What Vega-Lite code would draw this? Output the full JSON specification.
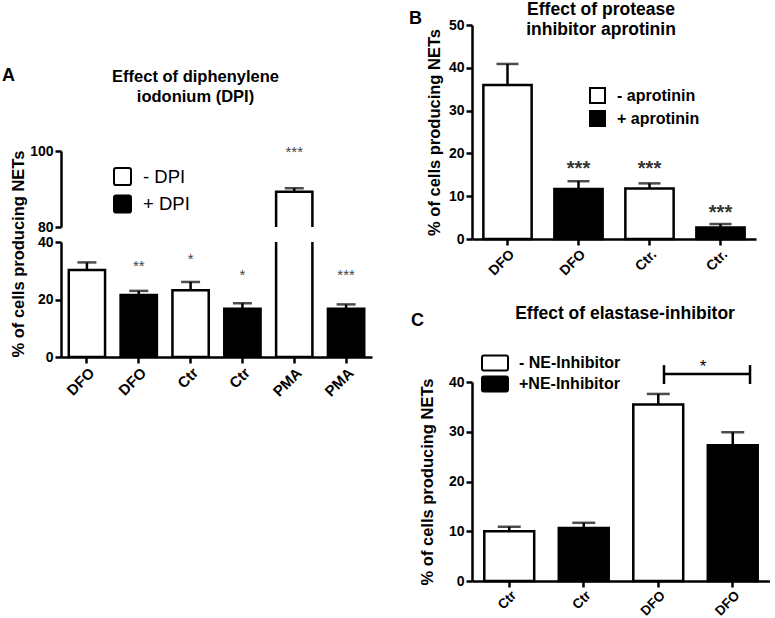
{
  "$schema": "https://vega.github.io/schema/vega-lite/v6.json",
  "background": "white",
  "padding": {"left": 2, "top": 0, "right": 0, "bottom": 0},
  "config": {
    "view": {"stroke": null},
    "font": "Liberation Sans",
    "axis": {"domainColor": "black", "domainWidth": 2.5, "tickColor": "black", "tickWidth": 2.5, "tickSize": 6,
      "labelFont": "Liberation Sans", "labelFontWeight": "bold", "labelFontSize": 14, "labelColor": "black", "labelPadding": 2,
      "titleFont": "Liberation Sans", "titleFontWeight": "bold", "titleFontSize": 16.5, "titleColor": "black", "grid": false},
    "legend": {"labelFont": "Liberation Sans", "labelColor": "black", "padding": 0, "titlePadding": 0},
    "title": {"font": "Liberation Sans", "fontWeight": "bold", "color": "black"}
  },
  "datasets": {
    "a": [
      {"id": "DFO|-", "treat": "- DPI", "value": 30.3, "hi": 32.9, "star": "", "sy": null},
      {"id": "DFO|+", "treat": "+ DPI", "value": 21.6, "hi": 23.0, "star": "**", "sy": 31.7},
      {"id": "Ctr|-", "treat": "- DPI", "value": 23.2, "hi": 26.1, "star": "*", "sy": 34.1},
      {"id": "Ctr|+", "treat": "+ DPI", "value": 16.8, "hi": 18.7, "star": "*", "sy": 28.6},
      {"id": "PMA|-", "treat": "- DPI", "value": 89.3, "hi": 90.2, "star": "***", "sy": 99.8},
      {"id": "PMA|+", "treat": "+ DPI", "value": 16.8, "hi": 18.3, "star": "***", "sy": 28.6}
    ],
    "b": [
      {"id": "DFO|-", "treat": "- aprotinin", "value": 36.0, "hi": 40.9, "star": "", "sy": null},
      {"id": "DFO|+", "treat": "+ aprotinin", "value": 11.7, "hi": 13.5, "star": "***", "sy": 16.4},
      {"id": "Ctr.|-", "treat": "- aprotinin", "value": 11.8, "hi": 13.0, "star": "***", "sy": 16.4},
      {"id": "Ctr.|+", "treat": "+ aprotinin", "value": 2.7, "hi": 3.5, "star": "***", "sy": 6.1}
    ],
    "c": [
      {"id": "Ctr|-", "treat": "- NE-Inhibitor", "value": 10.0, "hi": 10.9},
      {"id": "Ctr|+", "treat": "+NE-Inhibitor", "value": 10.65, "hi": 11.7},
      {"id": "DFO|-", "treat": "- NE-Inhibitor", "value": 35.5, "hi": 37.6},
      {"id": "DFO|+", "treat": "+NE-Inhibitor", "value": 27.3, "hi": 29.9}
    ],
    "cbracket": [
      {"from": "DFO|-", "to": "DFO|+", "level": 41.6, "lo": 39.6, "up": 43.4, "star": "*", "sy": 43.0}
    ]
  },
  "spacing": 37,
  "resolve": {"scale": {"x": "independent", "y": "independent", "fill": "independent"}, "legend": {"fill": "independent"}},
  "hconcat": [
    {
      "bounds": "flush",
      "spacing": 15,
      "resolve": {"scale": {"x": "independent", "y": "independent", "fill": "independent"}, "legend": {"fill": "independent"}},
      "vconcat": [
        {
          "width": 311, "height": 111,
          "title": {"text": "A", "anchor": "start", "frame": "group", "orient": "top", "offset": -60, "dx": -59, "fontSize": 18},
          "data": {"values": [{"t": ""}]},
          "mark": {"type": "text"},
          "encoding": {"text": {"field": "t"}}
        },
        {
          "width": 311, "height": 76,
          "data": {"name": "a"},
          "title": {"text": ["Effect of diphenylene", "iodonium (DPI)"], "fontSize": 16.5, "anchor": "middle", "frame": "group", "dx": -21, "offset": 39, "lineHeight": 20},
          "encoding": {
            "x": {"field": "id", "type": "nominal", "sort": null, "scale": {"paddingInner": 0.3, "paddingOuter": 0.15}, "axis": null}
          },
          "layer": [
            {
              "mark": {"type": "bar", "clip": true, "stroke": "black", "strokeWidth": 2.5},
              "encoding": {
                "y": {"field": "value", "type": "quantitative", "scale": {"domain": [80, 100], "zero": false, "nice": false},
                  "axis": {"values": [80, 90, 100], "title": null}},
                "y2": {"datum": 0},
                "fill": {"field": "treat", "type": "nominal", "scale": {"domain": ["- DPI", "+ DPI"], "range": ["white", "black"]},
                  "legend": {"title": null, "orient": "none", "legendX": 52, "legendY": 16, "symbolType": "M-0.75,-1H0.75Q1,-1 1,-0.75V0.75Q1,1 0.75,1H-0.75Q-1,1 -1,0.75V-0.75Q-1,-1 -0.75,-1Z",
                    "symbolSize": 289, "symbolStrokeColor": "black", "symbolStrokeWidth": 2, "labelFontSize": 18.5, "labelFontWeight": "normal", "rowPadding": 2.5, "labelOffset": 11}}
              }
            },
            {
              "mark": {"type": "rule", "clip": true, "color": "black", "strokeWidth": 2.5},
              "encoding": {"y": {"field": "value", "type": "quantitative"}, "y2": {"field": "hi"}}
            },
            {
              "mark": {"type": "tick", "clip": true, "color": "black", "thickness": 2.5, "size": 19},
              "encoding": {"y": {"field": "hi", "type": "quantitative"}}
            },
            {
              "transform": [{"filter": "datum.sy != null && datum.sy >= 80"}],
              "mark": {"type": "text", "fontSize": 15, "color": "#444", "baseline": "middle"},
              "encoding": {"y": {"field": "sy", "type": "quantitative"}, "text": {"field": "star"}}
            }
          ]
        },
        {
          "width": 311, "height": 115,
          "data": {"name": "a"},
          "encoding": {
            "x": {"field": "id", "type": "nominal", "sort": null, "scale": {"paddingInner": 0.3, "paddingOuter": 0.15},
              "axis": {"title": null, "labelExpr": "split(datum.label, '|')[0]", "labelAngle": -45, "labelFontSize": 15, "labelAlign": "right", "labelBaseline": "top", "labelPadding": 2}}
          },
          "layer": [
            {
              "mark": {"type": "bar", "clip": true, "stroke": "black", "strokeWidth": 2.5},
              "encoding": {
                "y": {"field": "value", "type": "quantitative", "scale": {"domain": [0, 40], "nice": false},
                  "axis": {"values": [0, 10, 20, 30, 40], "title": "% of cells producing NETs", "titleAnchor": "start", "titlePadding": 11}},
                "y2": {"datum": 0},
                "fill": {"field": "treat", "type": "nominal", "scale": {"domain": ["- DPI", "+ DPI"], "range": ["white", "black"]}, "legend": null}
              }
            },
            {
              "mark": {"type": "rule", "clip": true, "color": "black", "strokeWidth": 2.5},
              "encoding": {"y": {"field": "value", "type": "quantitative"}, "y2": {"field": "hi"}}
            },
            {
              "mark": {"type": "tick", "clip": true, "color": "black", "thickness": 2.5, "size": 19},
              "encoding": {"y": {"field": "hi", "type": "quantitative"}}
            },
            {
              "transform": [{"filter": "datum.sy != null && datum.sy < 80"}],
              "mark": {"type": "text", "fontSize": 15, "color": "#444", "baseline": "middle"},
              "encoding": {"y": {"field": "sy", "type": "quantitative"}, "text": {"field": "star"}}
            }
          ]
        }
      ]
    },
    {
      "bounds": "flush",
      "spacing": 15,
      "resolve": {"scale": {"x": "independent", "y": "independent", "fill": "independent"}, "legend": {"fill": "independent"}},
      "vconcat": [
        {
          "width": 284, "height": 214,
          "data": {"name": "b"},
          "title": {"text": ["Effect of protease", "inhibitor aprotinin"], "fontSize": 17.5, "anchor": "middle", "frame": "group", "dx": -13, "offset": -20, "lineHeight": 20},
          "encoding": {
            "x": {"field": "id", "type": "nominal", "sort": null, "scale": {"paddingInner": 0.32, "paddingOuter": 0.16},
              "axis": {"title": null, "labelExpr": "split(datum.label, '|')[0]", "labelAngle": -45, "labelFontSize": 14, "labelAlign": "right", "labelBaseline": "top", "labelPadding": 2}}
          },
          "layer": [
            {
              "mark": {"type": "bar", "stroke": "black", "strokeWidth": 2.5},
              "encoding": {
                "y": {"field": "value", "type": "quantitative", "scale": {"domain": [0, 50], "nice": false},
                  "axis": {"values": [0, 10, 20, 30, 40, 50], "title": "% of cells producing NETs", "titlePadding": 6}},
                "fill": {"field": "treat", "type": "nominal", "scale": {"domain": ["- aprotinin", "+ aprotinin"], "range": ["white", "black"]},
                  "legend": {"title": null, "orient": "none", "legendX": 117, "legendY": 62, "symbolType": "square",
                    "symbolSize": 225, "symbolStrokeColor": "black", "symbolStrokeWidth": 2, "labelFontSize": 16, "labelFontWeight": "bold", "rowPadding": 0, "labelOffset": 11}}
              }
            },
            {
              "mark": {"type": "rule", "color": "black", "strokeWidth": 2.5},
              "encoding": {"y": {"field": "value", "type": "quantitative"}, "y2": {"field": "hi"}}
            },
            {
              "mark": {"type": "tick", "color": "black", "thickness": 2.5, "size": 22},
              "encoding": {"y": {"field": "hi", "type": "quantitative"}}
            },
            {
              "transform": [{"filter": "datum.sy != null"}],
              "mark": {"type": "text", "fontSize": 20, "fontWeight": "bold", "color": "#333", "baseline": "middle"},
              "encoding": {"y": {"field": "sy", "type": "quantitative"}, "text": {"field": "star"}}
            }
          ]
        },
        {
          "width": 284, "height": 113,
          "title": {"text": "C", "anchor": "start", "frame": "group", "orient": "top", "offset": -76, "dx": -61, "fontSize": 18},
          "data": {"values": [{"t": ""}]},
          "mark": {"type": "text"},
          "encoding": {"text": {"field": "t"}}
        },
        {
          "width": 298, "height": 199,
          "title": {"text": "Effect of elastase-inhibitor", "fontSize": 17.5, "anchor": "middle", "frame": "group", "dx": 4, "offset": 32},
          "encoding": {
            "x": {"field": "id", "type": "nominal", "sort": null, "scale": {"domain": ["Ctr|-", "Ctr|+", "DFO|-", "DFO|+"], "paddingInner": 0.33, "paddingOuter": 0.165},
              "axis": {"title": null, "labelExpr": "split(datum.label, '|')[0]", "labelAngle": -45, "labelFontSize": 13.5, "labelAlign": "right", "labelBaseline": "top", "labelPadding": 1}}
          },
          "layer": [
            {
              "data": {"name": "c"},
              "mark": {"type": "bar", "stroke": "black", "strokeWidth": 2.5},
              "encoding": {
                "y": {"field": "value", "type": "quantitative", "scale": {"domain": [0, 40], "nice": false},
                  "axis": {"values": [0, 10, 20, 30, 40], "title": "% of cells producing NETs", "titlePadding": 13}},
                "fill": {"field": "treat", "type": "nominal", "scale": {"domain": ["- NE-Inhibitor", "+NE-Inhibitor"], "range": ["white", "black"]},
                  "legend": {"title": null, "orient": "none", "legendX": 14, "legendY": -28, "symbolType": "M-1.625,-0.7Q-1.625,-0.94 -1.4,-0.94H1.4Q1.625,-0.94 1.625,-0.7V0.7Q1.625,0.94 1.4,0.94H-1.4Q-1.625,0.94 -1.625,0.7Z",
                    "symbolSize": 256, "symbolStrokeColor": "black", "symbolStrokeWidth": 2, "labelFontSize": 16, "labelFontWeight": "bold", "rowPadding": -3, "labelOffset": 15}}
              }
            },
            {
              "data": {"name": "c"},
              "mark": {"type": "rule", "color": "black", "strokeWidth": 2.5},
              "encoding": {"y": {"field": "value", "type": "quantitative"}, "y2": {"field": "hi"}}
            },
            {
              "data": {"name": "c"},
              "mark": {"type": "tick", "color": "black", "thickness": 2.5, "size": 23},
              "encoding": {"y": {"field": "hi", "type": "quantitative"}}
            },
            {
              "data": {"name": "cbracket"},
              "mark": {"type": "rule", "color": "black", "strokeWidth": 2.5, "clip": false},
              "encoding": {"x": {"field": "from", "bandPosition": 0.615}, "x2": {"field": "to", "bandPosition": 0.846}, "y": {"field": "level", "type": "quantitative"}}
            },
            {
              "data": {"name": "cbracket"},
              "mark": {"type": "rule", "color": "black", "strokeWidth": 2.5, "clip": false},
              "encoding": {"x": {"field": "from", "bandPosition": 0.615}, "y": {"field": "lo", "type": "quantitative"}, "y2": {"field": "up"}}
            },
            {
              "data": {"name": "cbracket"},
              "mark": {"type": "rule", "color": "black", "strokeWidth": 2.5, "clip": false},
              "encoding": {"x": {"field": "to", "bandPosition": 0.846}, "y": {"field": "lo", "type": "quantitative"}, "y2": {"field": "up"}}
            },
            {
              "data": {"name": "cbracket"},
              "mark": {"type": "text", "fontSize": 17, "color": "black", "baseline": "middle", "clip": false},
              "encoding": {"x": {"field": "from", "bandPosition": 1.4}, "y": {"field": "sy", "type": "quantitative"}, "text": {"field": "star"}}
            }
          ]
        },
        {
          "width": 284, "height": 1,
          "title": {"text": "B", "anchor": "start", "frame": "group", "orient": "top", "offset": 563, "dx": -63, "fontSize": 18},
          "data": {"values": [{"t": ""}]},
          "mark": {"type": "text"},
          "encoding": {"text": {"field": "t"}}
        }
      ]
    }
  ]
}
